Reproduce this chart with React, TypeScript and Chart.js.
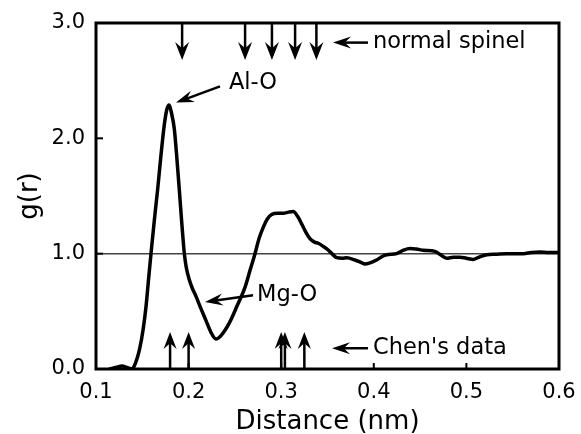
import React, { useEffect, useRef } from "react";
import { Chart, registerables } from "chart.js";
Chart.register(...registerables);

// g(r) curve
const distance = [
  0.115, 0.122, 0.128, 0.134, 0.139, 0.143, 0.147, 0.151, 0.154, 0.157, 0.160, 0.163,
  0.1666, 0.170, 0.1738, 0.1765, 0.179, 0.1815, 0.1846, 0.187, 0.190, 0.1925, 0.1954,
  0.1975, 0.2005, 0.204, 0.208, 0.213, 0.2188, 0.224, 0.2296, 0.235, 0.244, 0.2525,
  0.261, 0.2665, 0.2717, 0.276, 0.2807, 0.285, 0.2897, 0.296, 0.3023, 0.308, 0.313,
  0.318, 0.322, 0.327, 0.331, 0.336, 0.340, 0.346, 0.351, 0.356, 0.360, 0.366, 0.3707,
  0.3797, 0.386, 0.3905, 0.396, 0.403, 0.409, 0.4139, 0.4247, 0.432, 0.439, 0.446,
  0.4535, 0.466, 0.472, 0.4787, 0.486, 0.493, 0.500, 0.5075, 0.515, 0.522, 0.532,
  0.5435, 0.5615, 0.570, 0.579, 0.589, 0.599,
];
const gValues = [
  0.0, 0.015, 0.025, 0.012, 0.0, 0.06, 0.17, 0.35, 0.54, 0.80, 1.05, 1.29,
  1.56, 1.84, 2.12, 2.25, 2.29, 2.22, 2.08, 1.86, 1.55, 1.28, 1.0,
  0.88, 0.78, 0.70, 0.63, 0.53, 0.42, 0.32, 0.26, 0.29, 0.40, 0.55,
  0.71, 0.86, 1.0, 1.13, 1.23, 1.30, 1.34, 1.35, 1.35, 1.36, 1.365,
  1.32, 1.26, 1.18, 1.13, 1.10, 1.09, 1.06, 1.03, 0.99, 0.965, 0.96, 0.965,
  0.945, 0.925, 0.91, 0.92, 0.945, 0.975, 0.99, 1.0, 1.03, 1.045, 1.04,
  1.03, 1.02, 0.99, 0.96, 0.97, 0.97, 0.96, 0.95, 0.975, 0.99, 0.995,
  1.0, 1.0, 1.01, 1.015, 1.01, 1.01,
];

// peak positions marked with arrows
const spinelPeaks = [0.193, 0.261, 0.290, 0.315, 0.338];
const chenPeaks = [0.180, 0.200, 0.300, 0.304, 0.325];

// axis ticks
const xTickValues = [0.1, 0.2, 0.3, 0.4, 0.5, 0.6];
const yTickValues = [0, 1, 2, 3];
const referenceLevel = 1.0;

const FONT = "'DejaVu Sans', 'Liberation Sans', Arial, sans-serif";

const annotations = [
  { text: "Al-O", tx: 0.2436, ty: 2.48, from: [0.2339, 2.45], to: [0.1864, 2.31] },
  { text: "Mg-O", tx: 0.2739, ty: 0.64, from: [0.2696, 0.64], to: [0.2177, 0.58] },
  { text: "normal spinel", tx: 0.3991, ty: 2.83, from: [0.3937, 2.83], to: [0.356, 2.83] },
  { text: "Chen's data", tx: 0.3991, ty: 0.18, from: [0.3937, 0.18], to: [0.3549, 0.18] },
];

function arrow(ctx: CanvasRenderingContext2D, x0: number, y0: number, x1: number, y1: number, L = 16, W = 6) {
  const dx = x1 - x0, dy = y1 - y0;
  const len = Math.hypot(dx, dy) || 1;
  const ux = dx / len, uy = dy / len;
  const nx = -uy, ny = ux;
  ctx.beginPath();
  ctx.moveTo(x0, y0);
  ctx.lineTo(x1 - ux * L * 0.6, y1 - uy * L * 0.6);
  ctx.stroke();
  ctx.beginPath();
  ctx.moveTo(x1, y1);
  ctx.lineTo(x1 - ux * L + nx * W, y1 - uy * L + ny * W);
  ctx.lineTo(x1 - ux * L * 0.65, y1 - uy * L * 0.65);
  ctx.lineTo(x1 - ux * L - nx * W, y1 - uy * L - ny * W);
  ctx.closePath();
  ctx.fill();
}

const decorPlugin = {
  id: "decor",
  afterDatasetsDraw(chart: any) {
    const { ctx, chartArea: ca, scales } = chart;
    const xs = scales.x, ys = scales.y;
    ctx.save();
    ctx.strokeStyle = "#000";
    ctx.fillStyle = "#000";
    // frame
    ctx.lineWidth = 3;
    ctx.strokeRect(ca.left, ca.top, ca.right - ca.left, ca.bottom - ca.top);
    // inward ticks
    ctx.lineWidth = 2;
    yTickValues.forEach((v) => {
      const y = ys.getPixelForValue(v);
      ctx.beginPath(); ctx.moveTo(ca.left, y); ctx.lineTo(ca.left + 7, y); ctx.stroke();
    });
    xTickValues.forEach((v) => {
      const x = xs.getPixelForValue(v);
      ctx.beginPath(); ctx.moveTo(x, ca.bottom); ctx.lineTo(x, ca.bottom - 6); ctx.stroke();
    });
    // peak arrows
    ctx.lineWidth = 2.5;
    spinelPeaks.forEach((p) => {
      const x = xs.getPixelForValue(p);
      arrow(ctx, x, ys.getPixelForValue(3.0), x, ys.getPixelForValue(2.68), 18, 7);
    });
    chenPeaks.forEach((p) => {
      const x = xs.getPixelForValue(p);
      arrow(ctx, x, ys.getPixelForValue(0), x, ys.getPixelForValue(0.32), 17, 6.5);
    });
    // labels
    ctx.font = `22.5px ${FONT}`;
    ctx.textBaseline = "middle";
    ctx.textAlign = "left";
    annotations.forEach((a) => {
      ctx.fillText(a.text, xs.getPixelForValue(a.tx), ys.getPixelForValue(a.ty));
      arrow(
        ctx,
        xs.getPixelForValue(a.from[0]), ys.getPixelForValue(a.from[1]),
        xs.getPixelForValue(a.to[0]), ys.getPixelForValue(a.to[1]),
        18, 6
      );
    });
    ctx.restore();
  },
};

export default function App() {
  const ref = useRef<HTMLCanvasElement | null>(null);
  useEffect(() => {
    if (!ref.current) return;
    const chart = new Chart(ref.current, {
      type: "line",
      data: {
        datasets: [
          {
            data: distance.map((d, i) => ({ x: d, y: gValues[i] })),
            borderColor: "#000",
            borderWidth: 3.5,
            pointRadius: 0,
            tension: 0.35,
            cubicInterpolationMode: "monotone",
            borderJoinStyle: "round",
            borderCapStyle: "round",
            order: 1,
          },
          {
            data: [
              { x: xTickValues[0], y: referenceLevel },
              { x: xTickValues[xTickValues.length - 1], y: referenceLevel },
            ],
            borderColor: "#444",
            borderWidth: 1.5,
            pointRadius: 0,
            order: 2,
          },
        ],
      },
      options: {
        responsive: false,
        animation: false,
        layout: { padding: { top: 23, right: 22, left: 0, bottom: 0 } },
        plugins: { legend: { display: false }, tooltip: { enabled: false } },
        scales: {
          x: {
            type: "linear",
            min: 0.1,
            max: 0.6,
            afterBuildTicks: (s: any) => { s.ticks = xTickValues.map((v) => ({ value: v })); },
            afterFit: (s: any) => { s.height = 65; s.paddingLeft = 0; s.paddingRight = 0; },
            grid: { display: false, drawTicks: false },
            border: { display: false },
            ticks: {
              padding: 11,
              color: "#000",
              font: { family: FONT, size: 21 },
              callback: (v: any) => Number(v).toFixed(1),
              maxRotation: 0,
            },
            title: {
              display: true,
              text: "Distance (nm)",
              color: "#000",
              font: { family: FONT, size: 26 },
              padding: { top: 0, bottom: -4 },
            },
          },
          y: {
            min: 0,
            max: 3,
            afterBuildTicks: (s: any) => { s.ticks = yTickValues.map((v) => ({ value: v })); },
            afterFit: (s: any) => { s.width = 96; s.paddingTop = 0; s.paddingBottom = 0; },
            grid: { display: false, drawTicks: false },
            border: { display: false },
            ticks: {
              padding: 11,
              color: "#000",
              font: { family: FONT, size: 21 },
              callback: (v: any) => Number(v).toFixed(1),
            },
            title: {
              display: true,
              text: "g(r)",
              color: "#000",
              font: { family: FONT, size: 26 },
              padding: { top: 15, bottom: 15 },
            },
          },
        },
      },
      plugins: [decorPlugin],
    } as any);
    return () => chart.destroy();
  }, []);
  return (
    <div style={{ position: "absolute", left: 0, top: 0, width: 581, height: 434, background: "#fff" }}>
      <canvas ref={ref} width={581} height={434} style={{ display: "block" }} />
    </div>
  );
}
